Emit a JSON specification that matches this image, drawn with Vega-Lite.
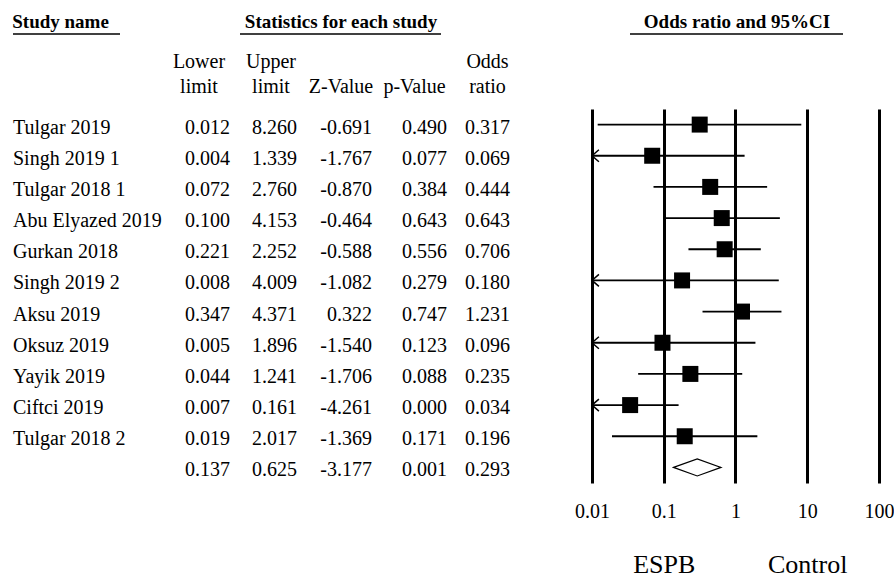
{
  "$schema": "https://vega.github.io/schema/vega-lite/v6.json",
  "background": "white",
  "padding": {"left": 12, "top": 13, "right": 0, "bottom": 0},
  "config": {
    "font": "Liberation Serif",
    "view": {"stroke": null},
    "locale": {"number": {"decimal": ".", "thousands": ",", "grouping": [3], "currency": ["$", ""], "minus": "-"}},
    "title": {"color": "black", "subtitleColor": "black", "font": "Liberation Serif", "subtitleFont": "Liberation Serif"},
    "axis": {"labelFont": "Liberation Serif"},
    "text": {"font": "Liberation Serif"}
  },
  "data": {"values": [
    {"study": "Tulgar 2019", "name": "Tulgar 2019", "type": "study", "lower": 0.012, "upper": 8.260, "z": -0.691, "p": 0.490, "or": 0.317},
    {"study": "Singh 2019 1", "name": "Singh 2019 1", "type": "study", "lower": 0.004, "upper": 1.339, "z": -1.767, "p": 0.077, "or": 0.069},
    {"study": "Tulgar 2018 1", "name": "Tulgar 2018 1", "type": "study", "lower": 0.072, "upper": 2.760, "z": -0.870, "p": 0.384, "or": 0.444},
    {"study": "Abu Elyazed 2019", "name": "Abu Elyazed 2019", "type": "study", "lower": 0.100, "upper": 4.153, "z": -0.464, "p": 0.643, "or": 0.643},
    {"study": "Gurkan 2018", "name": "Gurkan 2018", "type": "study", "lower": 0.221, "upper": 2.252, "z": -0.588, "p": 0.556, "or": 0.706},
    {"study": "Singh 2019 2", "name": "Singh 2019 2", "type": "study", "lower": 0.008, "upper": 4.009, "z": -1.082, "p": 0.279, "or": 0.180},
    {"study": "Aksu 2019", "name": "Aksu 2019", "type": "study", "lower": 0.347, "upper": 4.371, "z": 0.322, "p": 0.747, "or": 1.231},
    {"study": "Oksuz 2019", "name": "Oksuz 2019", "type": "study", "lower": 0.005, "upper": 1.896, "z": -1.540, "p": 0.123, "or": 0.096},
    {"study": "Yayik 2019", "name": "Yayik 2019", "type": "study", "lower": 0.044, "upper": 1.241, "z": -1.706, "p": 0.088, "or": 0.235},
    {"study": "Ciftci 2019", "name": "Ciftci 2019", "type": "study", "lower": 0.007, "upper": 0.161, "z": -4.261, "p": 0.000, "or": 0.034},
    {"study": "Tulgar 2018 2", "name": "Tulgar 2018 2", "type": "study", "lower": 0.019, "upper": 2.017, "z": -1.369, "p": 0.171, "or": 0.196},
    {"study": "Summary", "name": "", "type": "summary", "lower": 0.137, "upper": 0.625, "z": -3.177, "p": 0.001, "or": 0.293}
  ]},
  "bounds": "flush",
  "spacing": 0,
  "resolve": {"scale": {"y": "shared"}},
  "hconcat": [
    {
      "width": 148, "height": 374,
      "title": {"text": "Study name", "anchor": "start", "font": "Liberation Serif", "fontSize": 19, "fontWeight": "bold", "baseline": "top", "offset": 1.25},
      "layer": [
        {"mark": {"type": "text", "x": 0, "align": "left", "baseline": "middle", "dy": 3, "font": "Liberation Serif", "fontSize": 20, "color": "black"},
         "encoding": {"y": {"field": "study", "type": "nominal", "sort": null, "axis": null, "scale": {"type": "point", "padding": 0.5}}, "text": {"field": "name", "type": "nominal"}}},
        {"data": {"values": [{}]}, "mark": {"type": "rule", "strokeWidth": 1.5, "color": "black"},
         "encoding": {"x": {"value": 0}, "x2": {"value": 107}, "y": {"value": -75}}},
        {"data": {"values": [{}]}, "mark": {"type": "rule", "strokeWidth": 1.5, "color": "black"},
         "encoding": {"x": {"value": 227}, "x2": {"value": 428}, "y": {"value": -75}}},
        {"data": {"values": [{}]}, "mark": {"type": "rule", "strokeWidth": 1.5, "color": "black"},
         "encoding": {"x": {"value": 617}, "x2": {"value": 830}, "y": {"value": -75}}}
      ]
    },
    {
      "width": 69, "height": 374,
      "title": {"text": ["Lower", "limit"], "anchor": "middle", "dx": 3.5, "font": "Liberation Serif", "fontSize": 20, "fontWeight": "normal", "baseline": "top", "lineHeight": 25, "offset": 12},
      "mark": {"type": "text", "x": "width", "align": "right", "baseline": "middle", "dy": 3, "font": "Liberation Serif", "fontSize": 20, "color": "black"},
      "encoding": {"y": {"field": "study", "type": "nominal", "sort": null, "axis": null, "scale": {"type": "point", "padding": 0.5}}, "text": {"field": "lower", "type": "quantitative", "format": ".3f"}}
    },
    {
      "width": 67, "height": 374,
      "title": {"text": ["Upper", "limit"], "anchor": "middle", "dx": 7.5, "font": "Liberation Serif", "fontSize": 20, "fontWeight": "normal", "baseline": "top", "lineHeight": 25, "offset": 12},
      "mark": {"type": "text", "x": "width", "align": "right", "baseline": "middle", "dy": 3, "font": "Liberation Serif", "fontSize": 20, "color": "black"},
      "encoding": {"y": {"field": "study", "type": "nominal", "sort": null, "axis": null, "scale": {"type": "point", "padding": 0.5}}, "text": {"field": "upper", "type": "quantitative", "format": ".3f"}}
    },
    {
      "width": 75, "height": 374,
      "title": {"text": "Statistics for each study", "subtitle": "Z-Value", "anchor": "middle", "dx": 6.5, "font": "Liberation Serif", "fontSize": 19, "fontWeight": "bold", "baseline": "top", "offset": 12, "subtitleFont": "Liberation Serif", "subtitleFontSize": 20, "subtitleFontWeight": "normal", "subtitlePadding": 45, "subtitleColor": "black"},
      "mark": {"type": "text", "x": "width", "align": "right", "baseline": "middle", "dy": 3, "font": "Liberation Serif", "fontSize": 20, "color": "black"},
      "encoding": {"y": {"field": "study", "type": "nominal", "sort": null, "axis": null, "scale": {"type": "point", "padding": 0.5}}, "text": {"field": "z", "type": "quantitative", "format": ".3f"}}
    },
    {
      "width": 75, "height": 374,
      "title": {"text": "p-Value", "anchor": "middle", "dx": 5, "font": "Liberation Serif", "fontSize": 20, "fontWeight": "normal", "baseline": "top", "offset": 12},
      "mark": {"type": "text", "x": "width", "align": "right", "baseline": "middle", "dy": 3, "font": "Liberation Serif", "fontSize": 20, "color": "black"},
      "encoding": {"y": {"field": "study", "type": "nominal", "sort": null, "axis": null, "scale": {"type": "point", "padding": 0.5}}, "text": {"field": "p", "type": "quantitative", "format": ".3f"}}
    },
    {
      "width": 63, "height": 374,
      "title": {"text": ["Odds", "ratio"], "anchor": "middle", "dx": 9, "font": "Liberation Serif", "fontSize": 20, "fontWeight": "normal", "baseline": "top", "lineHeight": 25, "offset": 12},
      "mark": {"type": "text", "x": "width", "align": "right", "baseline": "middle", "dy": 3, "font": "Liberation Serif", "fontSize": 20, "color": "black"},
      "encoding": {"y": {"field": "study", "type": "nominal", "sort": null, "axis": null, "scale": {"type": "point", "padding": 0.5}}, "text": {"field": "or", "type": "quantitative", "format": ".3f"}}
    },
    {
      "width": 369, "height": 374,
      "title": {"text": "Odds ratio and 95%CI", "anchor": "middle", "dx": 42.5, "font": "Liberation Serif", "fontSize": 19, "fontWeight": "bold", "baseline": "top", "offset": 77},
      "resolve": {"axis": {"x": "independent"}},
      "layer": [
        {"transform": [{"filter": "datum.type == 'study'"}],
         "mark": {"type": "rule", "strokeWidth": 1.8, "color": "black"},
         "encoding": {
           "x": {"field": "lower", "type": "quantitative",
                 "scale": {"type": "log", "domain": [0.01, 100], "range": [82, 369], "clamp": true, "nice": false},
                 "axis": {"orient": "bottom", "values": [0.01, 0.1, 1, 10, 100], "labelExpr": "'' + datum.value", "grid": true, "gridColor": "black", "gridWidth": 3, "gridOpacity": 1, "domain": false, "ticks": false, "labelFont": "Liberation Serif", "labelFontSize": 20, "labelColor": "black", "labelPadding": 18, "labelFlush": false, "labelOverlap": false, "title": null}},
           "x2": {"field": "upper"},
           "y": {"field": "study", "type": "nominal", "sort": null, "axis": null, "scale": {"type": "point", "padding": 0.5}}}},
        {"transform": [{"filter": "datum.lower < 0.01"}],
         "mark": {"type": "point", "shape": "M 1.15 -1 L 0 0 L 1.15 1", "size": 144, "filled": false, "stroke": "black", "strokeWidth": 1.5, "opacity": 1},
         "encoding": {
           "x": {"field": "lower", "type": "quantitative", "axis": null},
           "y": {"field": "study", "type": "nominal", "sort": null, "axis": null, "scale": {"type": "point", "padding": 0.5}}}},
        {"transform": [{"filter": "datum.type == 'study'"}],
         "mark": {"type": "point", "shape": "square", "size": 256, "filled": true, "color": "black", "opacity": 1},
         "encoding": {
           "x": {"field": "or", "type": "quantitative",
                 "axis": {"orient": "bottom", "values": [0.1, 10], "labelExpr": "datum.value < 1 ? 'ESPB' : 'Control'", "grid": false, "domain": false, "ticks": false, "labelFont": "Liberation Serif", "labelFontSize": 26, "labelColor": "black", "labelPadding": 68, "labelFlush": false, "labelOverlap": false, "title": null}},
           "y": {"field": "study", "type": "nominal", "sort": null, "axis": null, "scale": {"type": "point", "padding": 0.5}}}},
        {"transform": [{"filter": "datum.type == 'summary'"}],
         "mark": {"type": "point", "shape": "M -1 0 L 0 -0.36 L 1 0 L 0 0.36 Z", "size": 2247, "filled": true, "fill": "white", "stroke": "black", "strokeWidth": 1.2, "opacity": 1},
         "encoding": {
           "x": {"field": "or", "type": "quantitative", "axis": null},
           "y": {"field": "study", "type": "nominal", "sort": null, "axis": null, "scale": {"type": "point", "padding": 0.5}}}}
      ]
    }
  ]
}
